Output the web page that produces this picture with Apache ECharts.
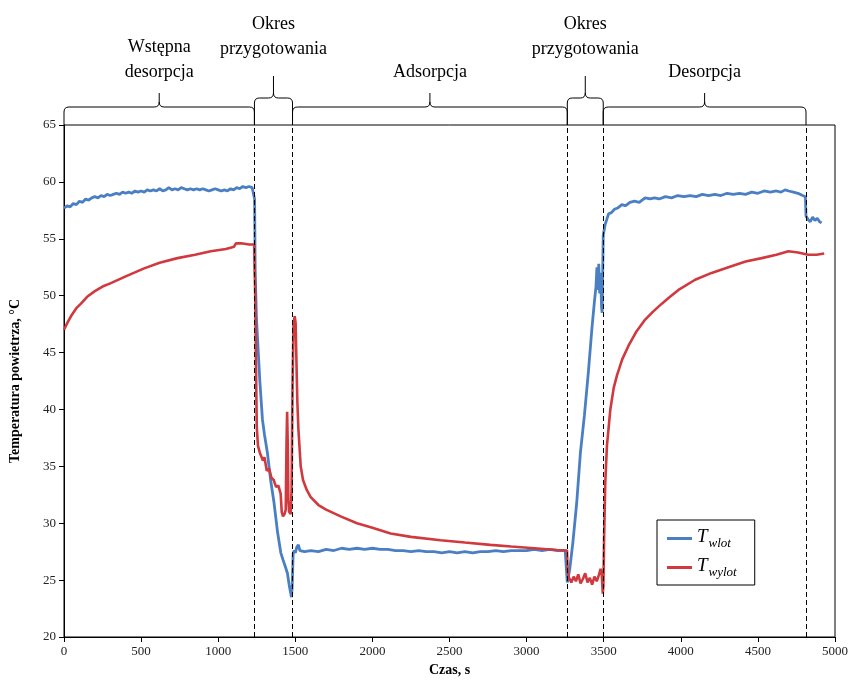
<!DOCTYPE html>
<html>
<head>
<meta charset="utf-8">
<script src="https://cdn.jsdelivr.net/npm/echarts@6/dist/echarts.min.js"></script>
<style>html,body{margin:0;padding:0;background:#fff}#c{width:864px;height:682px}</style>
</head>
<body>
<div id="c"></div>
<script>
// ---- data ----
const seriesNames = ['Twlot', 'Twylot'];
const xTicks = [0, 500, 1000, 1500, 2000, 2500, 3000, 3500, 4000, 4500, 5000];
const yTicks = [20, 25, 30, 35, 40, 45, 50, 55, 60, 65];
const phaseBounds = [0, 1235, 1482, 3264, 3497, 4812];
const phaseLabels = ['Wstępna\ndesorpcja', 'Okres\nprzygotowania', 'Adsorpcja', 'Okres\nprzygotowania', 'Desorpcja'];
const dashedLines = [1235, 1482, 3264, 3497, 4812];

const wlotData = [
 [0,57.7],[20,57.9],[40,57.8],[60,58.1],[80,58.0],[100,58.3],[120,58.2],[140,58.5],[160,58.4],[180,58.6],
 [200,58.7],[220,58.6],[240,58.8],[260,58.7],[280,58.9],[300,58.8],[320,58.9],[340,59.0],[360,58.9],[380,59.1],
 [400,59.0],[420,59.1],[440,59.0],[460,59.2],[480,59.1],[500,59.2],[520,59.1],[540,59.3],[560,59.2],[580,59.3],
 [600,59.2],[620,59.4],[640,59.2],[660,59.3],[680,59.5],[700,59.3],[720,59.4],[740,59.3],[760,59.5],[780,59.4],
 [800,59.3],[820,59.4],[840,59.3],[860,59.4],[880,59.3],[900,59.4],[920,59.3],[940,59.2],[960,59.3],[980,59.4],
 [1000,59.3],[1020,59.2],[1040,59.3],[1060,59.2],[1080,59.4],[1100,59.3],[1120,59.5],[1140,59.4],[1160,59.6],
 [1180,59.5],[1200,59.6],[1220,59.5],[1232,59.6],[1236,58.5],[1240,52.0],[1248,48.0],[1256,46.0],[1270,42.5],
 [1287,39.1],[1300,37.8],[1319,36.2],[1340,33.8],[1362,31.8],[1385,29.2],[1406,27.4],[1420,26.8],[1435,26.2],
 [1449,25.6],[1460,24.6],[1475,23.5],[1480,24.5],[1486,27.3],[1492,27.6],[1500,27.4],[1510,27.9],[1520,28.1],
 [1530,27.6],[1560,27.5],[1600,27.6],[1650,27.5],[1700,27.7],[1750,27.6],[1800,27.8],[1850,27.7],[1900,27.8],
 [1950,27.7],[2000,27.8],[2050,27.7],[2100,27.7],[2150,27.6],[2200,27.6],[2250,27.5],[2300,27.6],[2350,27.5],
 [2400,27.5],[2450,27.4],[2500,27.5],[2550,27.4],[2600,27.5],[2650,27.4],[2700,27.5],[2750,27.5],[2800,27.6],
 [2850,27.5],[2900,27.6],[2950,27.6],[3000,27.6],[3050,27.7],[3100,27.6],[3150,27.7],[3200,27.6],[3250,27.6],
 [3262,27.5],[3264,24.8],[3270,25.2],[3280,26.0],[3300,28.3],[3325,31.8],[3349,36.2],[3375,39.5],[3400,43.2],
 [3424,47.2],[3440,49.5],[3450,50.8],[3456,52.5],[3462,50.5],[3468,52.8],[3474,50.2],[3480,52.0],[3486,49.0],
 [3490,48.5],[3494,52.5],[3497,55.3],[3510,56.3],[3520,56.7],[3532,57.2],[3550,57.3],[3570,57.6],[3590,57.7],
 [3618,58.0],[3640,57.9],[3670,58.2],[3700,58.3],[3730,58.2],[3769,58.6],[3800,58.5],[3830,58.6],[3860,58.5],
 [3900,58.7],[3940,58.6],[3980,58.8],[4020,58.7],[4060,58.8],[4100,58.7],[4140,58.9],[4180,58.8],[4220,58.9],
 [4260,58.8],[4300,59.0],[4340,58.9],[4380,59.0],[4420,58.9],[4460,59.1],[4500,59.0],[4540,59.2],[4580,59.1],
 [4620,59.2],[4650,59.1],[4676,59.3],[4700,59.2],[4730,59.1],[4760,59.0],[4790,58.8],[4808,58.7],[4812,57.0],
 [4825,56.7],[4840,56.5],[4855,56.9],[4870,56.6],[4885,56.8],[4900,56.5],[4913,56.4]
];

const wylotData = [
 [0,47.0],[25,47.7],[50,48.3],[80,48.9],[110,49.3],[150,49.9],[200,50.4],[250,50.8],[304,51.1],[400,51.7],
 [520,52.4],[620,52.9],[736,53.3],[850,53.6],[952,53.9],[1050,54.1],[1103,54.3],[1115,54.6],[1150,54.6],
 [1200,54.5],[1233,54.5],[1237,54.4],[1240,50.0],[1245,44.0],[1250,38.5],[1258,36.8],[1270,36.2],
 [1290,35.5],[1300,35.8],[1315,34.6],[1330,34.8],[1345,34.0],[1360,33.8],[1375,33.2],[1390,33.3],[1405,32.6],
 [1412,31.0],[1420,30.6],[1430,30.8],[1438,31.2],[1443,37.0],[1447,39.8],[1451,37.0],[1455,32.0],[1460,31.0],
 [1470,30.8],[1476,33.0],[1482,42.0],[1488,47.5],[1496,48.2],[1502,47.6],[1507,44.5],[1513,40.8],[1520,38.3],
 [1535,35.0],[1550,33.8],[1575,32.9],[1600,32.3],[1650,31.6],[1700,31.2],[1794,30.6],[1900,30.0],[2000,29.6],
 [2118,29.1],[2250,28.8],[2442,28.5],[2600,28.3],[2765,28.1],[2900,27.95],[3050,27.8],[3197,27.65],[3262,27.6],
 [3266,25.8],[3275,25.2],[3290,24.8],
 [3305,25.3],[3320,24.9],[3335,25.5],[3350,24.7],[3365,25.1],[3380,25.6],[3395,24.8],[3410,25.2],[3425,24.6],
 [3440,25.3],[3455,24.9],[3470,25.5],[3480,26.0],[3488,25.4],[3494,23.8],[3498,24.5],[3503,29.0],[3510,33.5],
 [3521,36.8],[3543,40.0],[3565,41.9],[3586,43.0],[3620,44.4],[3661,45.6],[3710,46.8],[3769,47.9],[3820,48.6],
 [3877,49.3],[3930,49.9],[3985,50.5],[4093,51.4],[4200,52.0],[4309,52.5],[4420,53.0],[4525,53.3],[4620,53.6],
 [4698,53.9],[4760,53.8],[4827,53.6],[4880,53.6],[4930,53.7]
];

// ---- chart ----
const serif = 'Liberation Serif';
const chart = echarts.init(document.getElementById('c'), null, {renderer: 'canvas'});

const braceData = phaseLabels.map((l, i) => [phaseBounds[i], phaseBounds[i + 1], yTicks[yTicks.length - 1], i]);

function braceRender(params, api) {
  const a = api.coord([api.value(0), api.value(2)]);
  const b = api.coord([api.value(1), api.value(2)]);
  const x0 = a[0], x1 = b[0], yb = a[1];
  const small = (x1 - x0) < 80;
  const yh = yb - (small ? 27 : 18);
  const yp = yb - (small ? 49 : 32);
  const xm = (x0 + x1) / 2;
  const r = 5;
  const d = 'M' + x0 + ' ' + yb + ' L' + x0 + ' ' + (yh + r) + ' Q' + x0 + ' ' + yh + ' ' + (x0 + r) + ' ' + yh +
            ' L' + (xm - r) + ' ' + yh + ' Q' + xm + ' ' + yh + ' ' + xm + ' ' + (yh - r) + ' L' + xm + ' ' + yp +
            ' M' + xm + ' ' + (yh - r) + ' Q' + xm + ' ' + yh + ' ' + (xm + r) + ' ' + yh +
            ' L' + (x1 - r) + ' ' + yh + ' Q' + x1 + ' ' + yh + ' ' + x1 + ' ' + (yh + r) + ' L' + x1 + ' ' + yb;
  const idx = api.value(3);
  return {
    type: 'group',
    children: [
      {type: 'path', shape: {pathData: d}, style: {stroke: '#000', fill: null, lineWidth: 1}},
      {type: 'text', style: {text: phaseLabels[idx], x: xm, y: yp - (small ? 14 : 8), textAlign: 'center', textVerticalAlign: 'bottom',
        font: '18px "' + serif + '"', fill: '#000', lineHeight: 25}}
    ]
  };
}

const option = {
  animation: false,
  backgroundColor: '#fff',
  grid: {left: 63, right: 29, top: 125, bottom: 45, show: true, borderColor: '#000', borderWidth: 1, backgroundColor: 'transparent'},
  xAxis: {
    type: 'value', min: xTicks[0], max: xTicks[xTicks.length - 1], interval: 500,
    name: 'Czas, s', nameLocation: 'middle', nameGap: 25,
    nameTextStyle: {fontFamily: serif, fontWeight: 'bold', fontSize: 14, color: '#000'},
    axisLine: {lineStyle: {color: '#000', width: 1}},
    axisTick: {show: true, length: 5, lineStyle: {color: '#000'}},
    axisLabel: {fontFamily: serif, fontSize: 13, color: '#222', margin: 8, formatter: v => String(v)},
    splitLine: {show: false}
  },
  yAxis: {
    type: 'value', min: yTicks[0], max: yTicks[yTicks.length - 1], interval: 5,
    name: 'Temperatura powietrza, °C', nameLocation: 'middle', nameGap: 42,
    nameTextStyle: {fontFamily: serif, fontWeight: 'bold', fontSize: 14, color: '#000'},
    axisLine: {show: true, lineStyle: {color: '#000', width: 1}},
    axisTick: {show: true, length: 5, lineStyle: {color: '#000'}},
    axisLabel: {fontFamily: serif, fontSize: 13, color: '#222', margin: 8, formatter: v => String(v)},
    splitLine: {show: false}
  },
  legend: {
    left: 657, top: 520, orient: 'vertical',
    backgroundColor: '#fff', borderColor: '#000', borderWidth: 1, padding: [7, 18, 6, 10], itemGap: 6,
    icon: 'rect', itemWidth: 25, itemHeight: 3,
    data: seriesNames,
    formatter: function (n) { return '{t|T}{s|' + (n === 'Twlot' ? 'wlot' : 'wylot') + '}'; },
    textStyle: {
      color: '#000',
      rich: {
        t: {fontFamily: serif, fontStyle: 'italic', fontSize: 19, color: '#000', verticalAlign: 'bottom', padding: [0, 1, 4, 0]},
        s: {fontFamily: serif, fontStyle: 'italic', fontSize: 13, color: '#000', verticalAlign: 'bottom'}
      }
    }
  },
  series: [
    {
      name: seriesNames[0], type: 'line', data: wlotData, showSymbol: false, symbol: 'none',
      lineStyle: {color: '#4a7fc3', width: 2.8}, itemStyle: {color: '#4a7fc3'}, z: 3,
      markLine: {
        silent: true, symbol: 'none', label: {show: false},
        lineStyle: {color: '#000', type: [5, 3], width: 1},
        data: dashedLines.map(v => ({xAxis: v}))
      }
    },
    {
      name: seriesNames[1], type: 'line', data: wylotData, showSymbol: false, symbol: 'none',
      lineStyle: {color: '#d0393e', width: 2.6}, itemStyle: {color: '#d0393e'}, z: 4
    },
    {
      type: 'custom', name: 'braces', data: braceData, renderItem: braceRender, clip: false, silent: true,
      encode: {x: [0, 1], y: 2}, z: 10
    }
  ]
};
chart.setOption(option);
</script>
</body>
</html>
